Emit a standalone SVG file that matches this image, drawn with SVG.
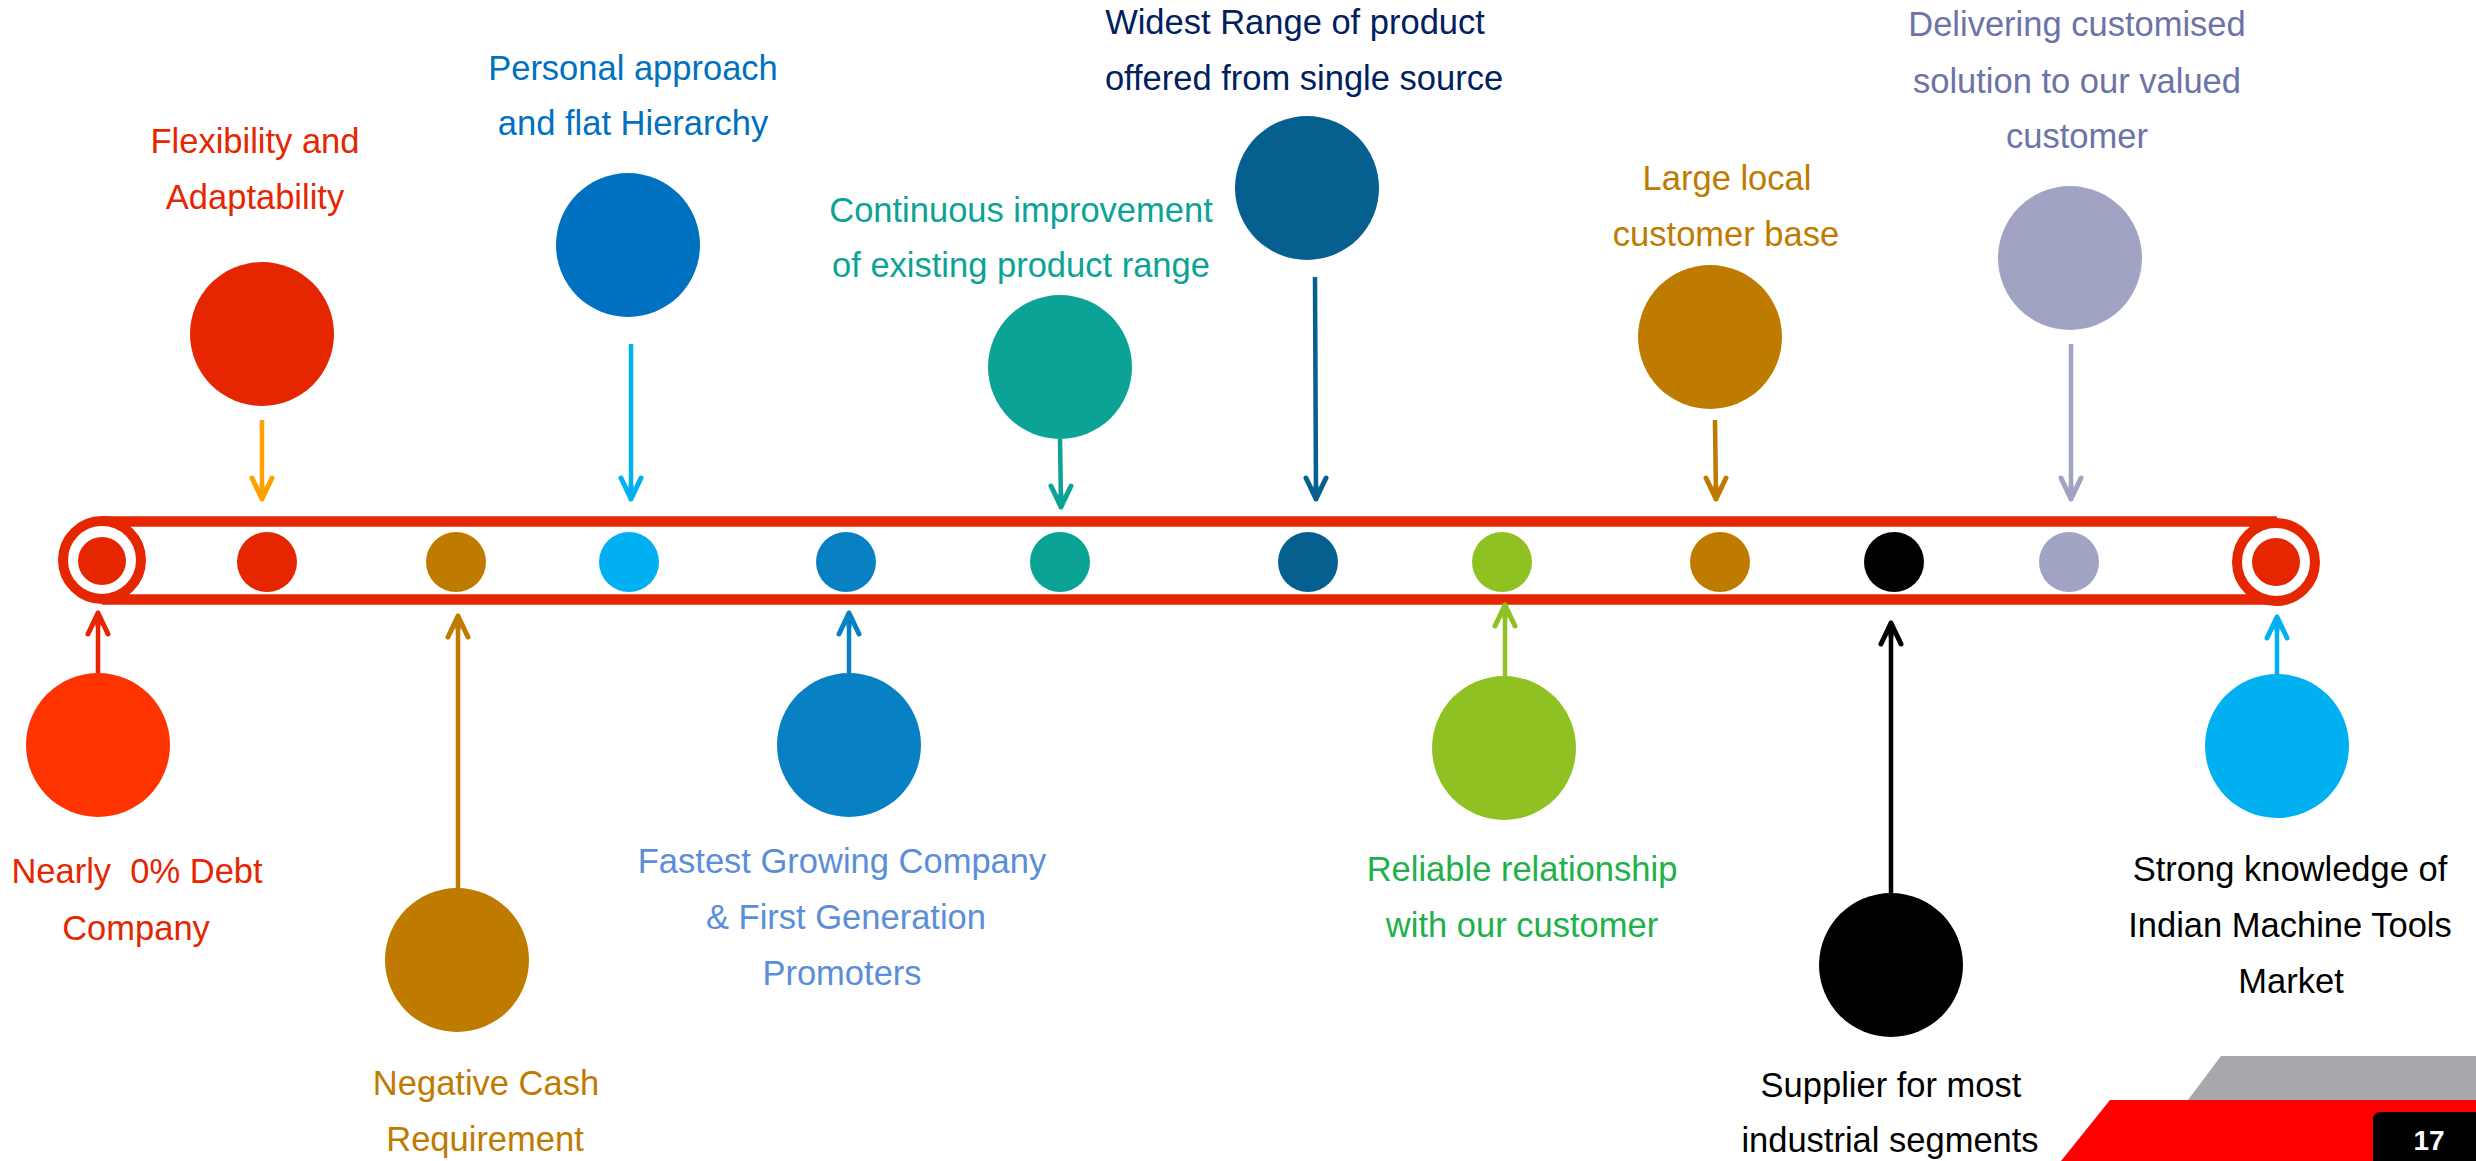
<svg xmlns="http://www.w3.org/2000/svg" xmlns:xlink="http://www.w3.org/1999/xlink" width="2476" height="1161" viewBox="0 0 2476 1161">
<defs>
<style>
text{font-family:"Liberation Sans",Arial,sans-serif;font-size:34.5px;text-anchor:middle}
.shaft{stroke-width:4.5;fill:none}
.head{fill:none;stroke-width:5;stroke-linecap:round;stroke-linejoin:round}
.bar{stroke:#E52600;stroke-width:10.5}
</style>
<path id="ah" d="M-10,22 L0,1 L10,22 M0,1 L0,14"/>
</defs>
<rect width="2476" height="1161" fill="#FFFFFF"/>

<g id="timeline">
<line class="bar" x1="102" y1="521.5" x2="2277" y2="521.5"/>
<line class="bar" x1="102" y1="599.5" x2="2277" y2="599.5"/>
<circle cx="102" cy="560" r="39" fill="#FFFFFF" stroke="#E52600" stroke-width="10"/>
<circle cx="102" cy="561" r="24" fill="#E52600"/>
<circle cx="2276" cy="562" r="39" fill="#FFFFFF" stroke="#E52600" stroke-width="10"/>
<circle cx="2276" cy="562" r="24" fill="#E52600"/>
<circle cx="267" cy="562" r="30" fill="#E52600"/>
<circle cx="456" cy="562" r="30" fill="#BE7B00"/>
<circle cx="629" cy="562" r="30" fill="#00B0F0"/>
<circle cx="846" cy="562" r="30" fill="#0781C4"/>
<circle cx="1060" cy="562" r="30" fill="#0BA396"/>
<circle cx="1308" cy="562" r="30" fill="#05608F"/>
<circle cx="1502" cy="562" r="30" fill="#8FC122"/>
<circle cx="1720" cy="562" r="30" fill="#BE7B00"/>
<circle cx="1894" cy="562" r="30" fill="#000000"/>
<circle cx="2069" cy="562" r="30" fill="#A0A4C2"/>
</g>

<g id="connectors">
<line class="shaft" stroke="#FFA200" x1="262" y1="420" x2="262" y2="498"/>
<use href="#ah" class="head" stroke="#FFA200" transform="translate(262,500) rotate(180)"/>
<line class="shaft" stroke="#00B0F0" x1="631" y1="344" x2="631" y2="498"/>
<use href="#ah" class="head" stroke="#00B0F0" transform="translate(631,500) rotate(180)"/>
<line class="shaft" stroke="#0BA396" x1="1060" y1="439" x2="1061" y2="506"/>
<use href="#ah" class="head" stroke="#0BA396" transform="translate(1061,508) rotate(180)"/>
<line class="shaft" stroke="#05608F" x1="1315" y1="277" x2="1316" y2="498"/>
<use href="#ah" class="head" stroke="#05608F" transform="translate(1316,500) rotate(180)"/>
<line class="shaft" stroke="#BE7B00" x1="1715" y1="420" x2="1716" y2="498"/>
<use href="#ah" class="head" stroke="#BE7B00" transform="translate(1716,500) rotate(180)"/>
<line class="shaft" stroke="#A0A4C2" x1="2071" y1="344" x2="2071" y2="498"/>
<use href="#ah" class="head" stroke="#A0A4C2" transform="translate(2071,500) rotate(180)"/>

<line class="shaft" stroke="#E52600" x1="98" y1="673" x2="98" y2="614"/>
<use href="#ah" class="head" stroke="#E52600" transform="translate(98,612)"/>
<line class="shaft" stroke="#BE7B00" x1="458" y1="888" x2="458" y2="617"/>
<use href="#ah" class="head" stroke="#BE7B00" transform="translate(458,615)"/>
<line class="shaft" stroke="#0781C4" x1="849" y1="673" x2="849" y2="614"/>
<use href="#ah" class="head" stroke="#0781C4" transform="translate(849,612)"/>
<line class="shaft" stroke="#8FC122" x1="1505" y1="677" x2="1505" y2="606"/>
<use href="#ah" class="head" stroke="#8FC122" transform="translate(1505,604)"/>
<line class="shaft" stroke="#000000" x1="1891" y1="893" x2="1891" y2="624"/>
<use href="#ah" class="head" stroke="#000000" transform="translate(1891,622)"/>
<line class="shaft" stroke="#00B0F0" x1="2277" y1="674" x2="2277" y2="618"/>
<use href="#ah" class="head" stroke="#00B0F0" transform="translate(2277,616)"/>
</g>

<g id="flexibility">
<circle cx="262" cy="334" r="72" fill="#E52600"/>
<text x="255" y="153" fill="#E52600">Flexibility and</text>
<text x="255" y="209" fill="#E52600">Adaptability</text>
</g>
<g id="personal">
<circle cx="628" cy="245" r="72" fill="#0070C0"/>
<text x="633" y="80" fill="#0070C0">Personal approach</text>
<text x="633" y="135" fill="#0070C0">and flat Hierarchy</text>
</g>
<g id="continuous">
<circle cx="1060" cy="367" r="72" fill="#0BA396"/>
<text x="1021" y="222" fill="#0BA396">Continuous improvement</text>
<text x="1021" y="277" fill="#0BA396">of existing product range</text>
</g>
<g id="widest">
<circle cx="1307" cy="188" r="72" fill="#05608F"/>
<text x="1295" y="34" fill="#002060">Widest Range of product</text>
<text x="1304" y="90" fill="#002060">offered from single source</text>
</g>
<g id="large-local">
<circle cx="1710" cy="337" r="72" fill="#BE7B00"/>
<text x="1727" y="190" fill="#BE7B00">Large local</text>
<text x="1726" y="246" fill="#BE7B00">customer base</text>
</g>
<g id="delivering">
<circle cx="2070" cy="258" r="72" fill="#A0A4C2"/>
<text x="2077" y="36" fill="#6C73A6">Delivering customised</text>
<text x="2077" y="93" fill="#6C73A6">solution to our valued</text>
<text x="2077" y="148" fill="#6C73A6">customer</text>
</g>

<g id="nearly-debt">
<circle cx="98" cy="745" r="72" fill="#FF3300"/>
<text x="137" y="883" fill="#E52600" xml:space="preserve">Nearly  0% Debt</text>
<text x="136" y="940" fill="#E52600">Company</text>
</g>
<g id="negative-cash">
<circle cx="457" cy="960" r="72" fill="#BE7B00"/>
<text x="486" y="1095" fill="#BE7B00">Negative Cash</text>
<text x="485" y="1151" fill="#BE7B00">Requirement</text>
</g>
<g id="fastest">
<circle cx="849" cy="745" r="72" fill="#0781C4"/>
<text x="842" y="873" fill="#5B8ED8">Fastest Growing Company</text>
<text x="846" y="929" fill="#5B8ED8">&amp; First Generation</text>
<text x="842" y="985" fill="#5B8ED8">Promoters</text>
</g>
<g id="reliable">
<circle cx="1504" cy="748" r="72" fill="#8FC122"/>
<text x="1522" y="881" fill="#22B04A">Reliable relationship</text>
<text x="1522" y="937" fill="#22B04A">with our customer</text>
</g>
<g id="supplier">
<circle cx="1891" cy="965" r="72" fill="#000000"/>
<text x="1891" y="1097" fill="#000000">Supplier for most</text>
<text x="1890" y="1152" fill="#000000">industrial segments</text>
</g>
<g id="strong-knowledge">
<circle cx="2277" cy="746" r="72" fill="#00B0F0"/>
<text x="2290" y="881" fill="#000000">Strong knowledge of</text>
<text x="2290" y="937" fill="#000000">Indian Machine Tools</text>
<text x="2291" y="993" fill="#000000">Market</text>
</g>

<g id="footer">
<polygon points="2221,1056 2476,1056 2476,1100 2188,1100" fill="#A7A8AC"/>
<polygon points="2110,1100 2476,1100 2476,1161 2061,1161" fill="#FF0000"/>
<path d="M2373,1161 L2373,1120 Q2373,1112 2381,1112 L2476,1112 L2476,1161 Z" fill="#000000"/>
<text x="2429" y="1150" fill="#FFFFFF" style="font-weight:bold;font-size:28px">17</text>
</g>
</svg>
